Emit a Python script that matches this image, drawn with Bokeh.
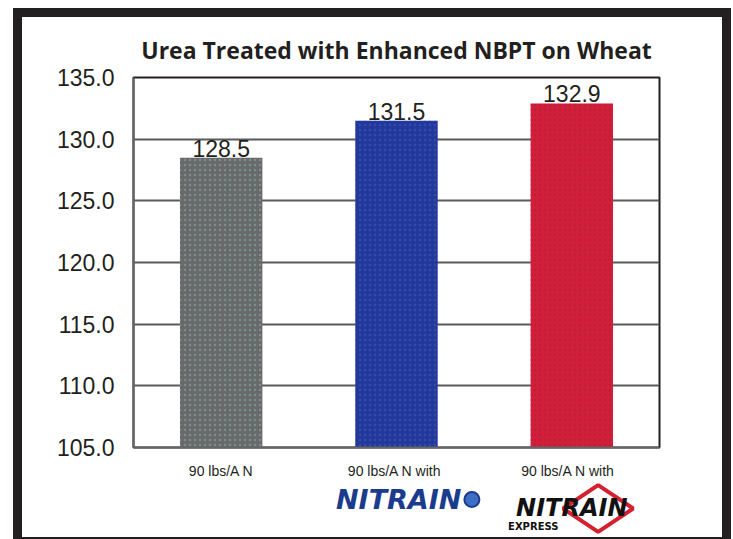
import math
from bokeh.plotting import figure
from bokeh.layouts import column
from bokeh.models import (ColumnDataSource, FactorRange, Range1d,
                          SingleIntervalTicker, NumeralTickFormatter)
from bokeh.transform import dodge
from bokeh.embed import file_html
from bokeh.resources import INLINE
from bokeh.core.properties import value

# ---- data ----
tick_labels = ["90 lbs/A N", "90 lbs/A N with", "90 lbs/A N with"]
products = ["", "NITRAIN", "NITRAIN"]
product_sub = ["", "", "EXPRESS"]
product_colors = ["#1b3c8e", "#1b3c8e", "#111111"]
yields = [128.5, 131.5, 132.9]
value_labels = ["128.5", "131.5", "132.9"]
bar_colors = ["#696969", "#22389c", "#d01f3a"]
dot_colors = ["#7fa9a9", "#4057b0", "#b81a33"]
title_text = "Urea Treated with Enhanced NBPT on Wheat"

# unique factor names that display as the tick labels
factors = [lab + " " * i for i, lab in enumerate(tick_labels)]

FONT = "Liberation Sans"
INK = "#231f20"

src = ColumnDataSource(dict(cat=factors, val=yields, lab=value_labels,
                            color=bar_colors, dot=dot_colors))

xr = FactorRange(factors=factors, range_padding=0)

p = figure(x_range=xr, y_range=Range1d(105, 135),
           frame_width=526, frame_height=370,
           output_backend="svg", toolbar_location=None,
           min_border_left=111, min_border_right=63,
           min_border_top=60, min_border_bottom=27,
           title=title_text)

p.title.align = "center"
p.title.text_font = "Open Sans"
p.title.text_font_size = "23px"
p.title.text_font_style = "bold"
p.title.text_color = INK
p.title.standoff = 24

p.vbar(x="cat", top="val", bottom=105, width=0.47, source=src,
       fill_color="color", line_color=None,
       hatch_pattern="dot", hatch_color="dot", hatch_scale=5, hatch_weight=1,
       hatch_alpha=0.6)

p.text(x="cat", y="val", text="lab", source=src,
       text_align="center", text_baseline="bottom", y_offset=-1,
       text_font=value(FONT), text_font_size="23px", text_color=INK)

# axes
p.yaxis.ticker = SingleIntervalTicker(interval=5)
p.yaxis.formatter = NumeralTickFormatter(format="0.0")
p.yaxis.major_label_text_font = FONT
p.yaxis.major_label_text_font_size = "23px"
p.yaxis.major_label_text_color = INK
p.yaxis.major_label_standoff = 13
p.yaxis.major_tick_line_color = None
p.yaxis.minor_tick_line_color = None
p.yaxis.axis_line_color = "#666666"
p.yaxis.axis_line_width = 2

p.xaxis.major_label_text_font = FONT
p.xaxis.major_label_text_font_size = "14px"
p.xaxis.major_label_text_color = INK
p.xaxis.major_label_standoff = 9
p.xaxis.major_tick_line_color = None
p.xaxis.axis_line_color = "#666666"
p.xaxis.axis_line_width = 2

p.xgrid.grid_line_color = None
p.ygrid.grid_line_color = "#5a5a5a"
p.ygrid.grid_line_width = 2

p.outline_line_color = INK
p.outline_line_width = 2
p.background_fill_color = "white"
p.border_fill_color = "white"

# ---- strip below the axis carrying the product marks ----
p2 = figure(x_range=xr, y_range=Range1d(0, 56), width=700, height=56,
            output_backend="svg", toolbar_location=None,
            x_axis_type=None, y_axis_type=None,
            min_border_left=111, min_border_right=63,
            min_border_top=0, min_border_bottom=0)
p2.outline_line_color = None
p2.background_fill_color = "white"
p2.border_fill_color = "white"

nit = ColumnDataSource(dict(cat=factors[1:2], prod=products[1:2]))
exp = ColumnDataSource(dict(cat=factors[2:3], prod=products[2:3], sub=product_sub[2:3]))

# NITRAIN mark (blue word + round emblem)
p2.text(x=dodge("cat", 0.37, range=xr), y=38, text="prod", source=nit,
        text_align="right", text_baseline="middle",
        text_font=value("DejaVu Sans"), text_font_style="bold italic",
        text_font_size="27px", text_color=product_colors[1])
p2.scatter(x=dodge("cat", 0.43, range=xr), y=38, source=nit, marker="circle",
           size=15, fill_color="#3d6fc4", line_color="#1b3c8e", line_width=2)

# NITRAIN EXPRESS mark (red emblem, black word)
p2.scatter(x=dodge("cat", 0.15, range=xr), y=29, source=exp, marker="diamond",
           size=70, angle=math.pi / 2, fill_color="white", line_color="#d4202f",
           line_width=4)
p2.text(x="cat", y=30, text="prod", source=exp,
        text_align="center", text_baseline="middle",
        text_font=value("DejaVu Sans"), text_font_style="bold italic",
        text_font_size="24px", text_color=product_colors[2])
p2.text(x=dodge("cat", -0.22, range=xr), y=11, text="sub", source=exp,
        text_align="center", text_baseline="middle",
        text_font=value("DejaVu Sans"), text_font_style="bold",
        text_font_size="10px", text_color=product_colors[2])

layout = column(p, p2, spacing=0)
layout.styles = {"border": "9px solid #231f20", "margin-left": "13px",
                 "margin-top": "8px", "background-color": "white"}

open("out.html", "w").write(file_html(layout, INLINE))
